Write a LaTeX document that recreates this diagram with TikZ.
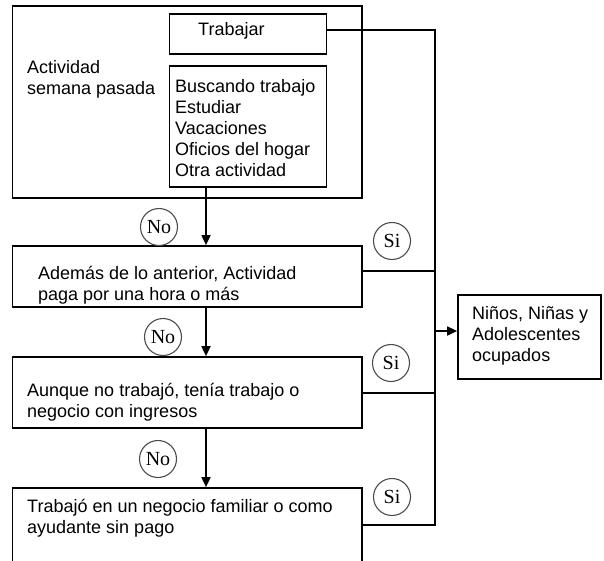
\documentclass[tikz,border=0pt]{standalone}
\usepackage{fontspec}
\setmainfont{Liberation Sans}
\newfontfamily\circfont{Liberation Serif}
\usetikzlibrary{arrows.meta}

\tikzset{
  box/.style={draw, line width=1.7pt, inner sep=0pt},
  txt/.style={anchor=north west, inner sep=0pt, align=left, font=\fontsize{18}{21}\selectfont},
  answer/.style={draw=black!70, line width=1.1pt, circle, minimum size=37pt, inner sep=0pt, font=\circfont\fontsize{20}{22}\selectfont},
  flow/.style={line width=1.7pt, -{Triangle[length=10pt,width=9pt]}},
  link/.style={line width=1.7pt}
}

\begin{document}
\begin{tikzpicture}[x=1pt,y=-1pt]
        \clip (0,0) rectangle (604,560);

        % boxes
        \node[box, minimum width=349.5pt, minimum height=192pt] (act) at (187.25,102) {};
        \node[box, minimum width=157pt, minimum height=40pt] (trab) at (248,34) {};
        \node[box, minimum width=157pt, minimum height=121pt] (busca) at (248,126.5) {};
        \node[box, minimum width=349.5pt, minimum height=61pt] (ademas) at (187.25,276.5) {};
        \node[box, minimum width=349.5pt, minimum height=71pt] (aunque) at (187.25,392.5) {};
        \node[box, minimum width=349.5pt, minimum height=112pt] (trabfam) at (187.25,544) {};
        \node[box, minimum width=143pt, minimum height=84pt] (ninos) at (529.5,337) {};

        % texts
        \node[txt] (actlbl) at (27,60) {Actividad\\semana pasada};
        \node[txt] (trablbl) at (198,22) {Trabajar};
        \node[txt] (buscalbl) at (175,79) {Buscando trabajo\\Estudiar\\Vacaciones\\Oficios del hogar\\Otra actividad};
        \node[txt] (ademaslbl) at (38,266) {Además de lo anterior, Actividad\\paga por una hora o más};
        \node[txt] (aunquelbl) at (27,383) {Aunque no trabajó, tenía trabajo o\\negocio con ingresos};
        \node[txt] (trabfamlbl) at (27,499) {Trabajó en un negocio familiar o como\\ayudante sin pago};
        \node[txt] (ninoslbl) at (472,306) {Niños, Niñas y\\Adolescentes\\ocupados};

        % answers
        \node[answer] (no1) at (159,227) {No};
        \node[answer] (no2) at (163,337) {No};
        \node[answer] (no3) at (158,459) {No};
        \node[answer] (si1) at (392,241) {Si};
        \node[answer] (si2) at (391,363) {Si};
        \node[answer] (si3) at (392,497) {Si};

        % connectors
        \coordinate (arrx) at (206,0);
        \coordinate (bustop) at (435,30);
        \coordinate (busbot) at (435,525);
        \coordinate (ademasin) at (435,271);
        \coordinate (aunquein) at (435,393);
        \coordinate (ninosin) at (435,331);

        \draw[flow] (busca.south -| arrx) -- (ademas.north -| arrx);
        \draw[flow] (ademas.south -| arrx) -- (aunque.north -| arrx);
        \draw[flow] (aunque.south -| arrx) -- (trabfam.north -| arrx);

        \draw[link] (trab.east |- bustop) -- (bustop) -- (busbot) -- (trabfam.east |- busbot);
        \draw[link] (ademas.east |- ademasin) -- (ademasin);
        \draw[link] (aunque.east |- aunquein) -- (aunquein);
        \draw[flow] (ninosin) -- (ninos.west |- ninosin);
    \end{tikzpicture}
\end{document}
